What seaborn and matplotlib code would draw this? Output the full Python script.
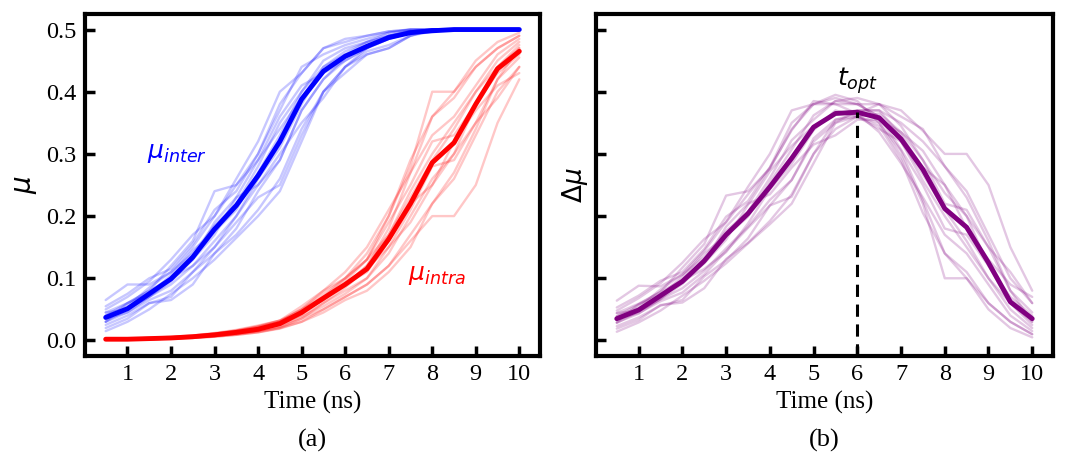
import numpy as np
import pandas as pd
import matplotlib
matplotlib.use("Agg")
import matplotlib.pyplot as plt
import seaborn as sns

# ---------------- data ----------------
time_ns = [0.5, 1.0, 1.5, 2.0, 2.5, 3.0, 3.5, 4.0, 4.5, 5.0,
           5.5, 6.0, 6.5, 7.0, 7.5, 8.0, 8.5, 9.0, 9.5, 10.0]

inter_mean = [0.037, 0.051, 0.075, 0.099, 0.134, 0.179, 0.217, 0.265, 0.320, 0.388,
              0.433, 0.457, 0.473, 0.487, 0.495, 0.498, 0.500, 0.500, 0.500, 0.500]
intra_mean = [0.002, 0.002, 0.003, 0.004, 0.006, 0.009, 0.013, 0.018, 0.027, 0.045,
              0.068, 0.090, 0.115, 0.163, 0.220, 0.286, 0.318, 0.380, 0.437, 0.465]
delta_mean = [0.035, 0.049, 0.072, 0.095, 0.128, 0.170, 0.204, 0.247, 0.293, 0.343,
              0.365, 0.367, 0.358, 0.324, 0.275, 0.212, 0.182, 0.125, 0.062, 0.035]

inter_trials = [
    [0.065, 0.090, 0.090, 0.110, 0.150, 0.200, 0.260, 0.320, 0.400, 0.430, 0.470, 0.485, 0.490, 0.497, 0.500, 0.500, 0.500, 0.500, 0.500, 0.500],
    [0.045, 0.060, 0.080, 0.120, 0.160, 0.240, 0.250, 0.290, 0.360, 0.410, 0.430, 0.450, 0.470, 0.490, 0.497, 0.500, 0.500, 0.500, 0.500, 0.500],
    [0.030, 0.050, 0.070, 0.090, 0.120, 0.160, 0.200, 0.250, 0.290, 0.370, 0.420, 0.450, 0.470, 0.485, 0.495, 0.500, 0.500, 0.500, 0.500, 0.500],
    [0.020, 0.035, 0.060, 0.065, 0.090, 0.140, 0.170, 0.210, 0.260, 0.340, 0.400, 0.440, 0.465, 0.475, 0.490, 0.497, 0.500, 0.500, 0.500, 0.500],
    [0.050, 0.070, 0.095, 0.130, 0.170, 0.200, 0.250, 0.300, 0.370, 0.440, 0.460, 0.475, 0.485, 0.495, 0.500, 0.500, 0.500, 0.500, 0.500, 0.500],
    [0.035, 0.045, 0.065, 0.080, 0.110, 0.150, 0.190, 0.230, 0.250, 0.330, 0.400, 0.430, 0.460, 0.470, 0.490, 0.500, 0.500, 0.500, 0.500, 0.500],
    [0.040, 0.055, 0.085, 0.110, 0.140, 0.185, 0.220, 0.280, 0.350, 0.400, 0.450, 0.470, 0.480, 0.490, 0.497, 0.500, 0.500, 0.500, 0.500, 0.500],
    [0.025, 0.040, 0.060, 0.070, 0.110, 0.140, 0.180, 0.240, 0.290, 0.370, 0.420, 0.455, 0.475, 0.490, 0.495, 0.500, 0.500, 0.500, 0.500, 0.500],
    [0.030, 0.060, 0.075, 0.105, 0.145, 0.175, 0.210, 0.270, 0.330, 0.400, 0.440, 0.465, 0.480, 0.495, 0.500, 0.500, 0.500, 0.500, 0.500, 0.500],
    [0.045, 0.050, 0.070, 0.100, 0.120, 0.150, 0.200, 0.260, 0.310, 0.380, 0.440, 0.460, 0.470, 0.490, 0.497, 0.500, 0.500, 0.500, 0.500, 0.500],
    [0.015, 0.030, 0.050, 0.075, 0.100, 0.130, 0.165, 0.200, 0.240, 0.320, 0.400, 0.440, 0.460, 0.470, 0.490, 0.500, 0.500, 0.500, 0.500, 0.500],
    [0.055, 0.075, 0.100, 0.115, 0.155, 0.210, 0.240, 0.300, 0.380, 0.430, 0.470, 0.480, 0.490, 0.497, 0.500, 0.500, 0.500, 0.500, 0.500, 0.500],
    [0.030, 0.045, 0.070, 0.095, 0.130, 0.170, 0.230, 0.290, 0.340, 0.390, 0.430, 0.460, 0.480, 0.490, 0.498, 0.500, 0.500, 0.500, 0.500, 0.500],
    [0.040, 0.060, 0.080, 0.100, 0.130, 0.190, 0.230, 0.250, 0.300, 0.350, 0.390, 0.440, 0.470, 0.485, 0.495, 0.500, 0.500, 0.500, 0.500, 0.500],
]

intra_trials = [
    [0.001, 0.002, 0.003, 0.004, 0.006, 0.009, 0.013, 0.020, 0.030, 0.050, 0.075, 0.100, 0.140, 0.200, 0.280, 0.400, 0.400, 0.440, 0.470, 0.490],
    [0.001, 0.001, 0.002, 0.003, 0.005, 0.007, 0.010, 0.014, 0.020, 0.030, 0.050, 0.070, 0.090, 0.120, 0.160, 0.200, 0.200, 0.250, 0.350, 0.420],
    [0.002, 0.003, 0.004, 0.006, 0.008, 0.012, 0.017, 0.024, 0.032, 0.045, 0.065, 0.090, 0.120, 0.180, 0.270, 0.360, 0.400, 0.450, 0.480, 0.495],
    [0.001, 0.002, 0.003, 0.004, 0.006, 0.009, 0.013, 0.018, 0.025, 0.040, 0.060, 0.080, 0.100, 0.140, 0.200, 0.260, 0.300, 0.380, 0.430, 0.460],
    [0.002, 0.002, 0.003, 0.005, 0.007, 0.010, 0.015, 0.022, 0.032, 0.055, 0.080, 0.110, 0.150, 0.210, 0.270, 0.330, 0.360, 0.410, 0.460, 0.485],
    [0.001, 0.001, 0.002, 0.003, 0.004, 0.006, 0.009, 0.013, 0.019, 0.030, 0.045, 0.065, 0.080, 0.110, 0.150, 0.220, 0.260, 0.330, 0.400, 0.440],
    [0.001, 0.002, 0.003, 0.004, 0.006, 0.009, 0.013, 0.019, 0.028, 0.045, 0.065, 0.090, 0.120, 0.170, 0.240, 0.300, 0.350, 0.400, 0.450, 0.480],
    [0.002, 0.003, 0.004, 0.005, 0.007, 0.011, 0.016, 0.023, 0.032, 0.050, 0.070, 0.095, 0.130, 0.200, 0.290, 0.360, 0.390, 0.440, 0.470, 0.490],
    [0.001, 0.002, 0.002, 0.003, 0.005, 0.007, 0.011, 0.016, 0.023, 0.038, 0.055, 0.075, 0.100, 0.150, 0.210, 0.280, 0.290, 0.350, 0.420, 0.455],
    [0.001, 0.002, 0.003, 0.004, 0.005, 0.008, 0.012, 0.017, 0.026, 0.042, 0.070, 0.100, 0.130, 0.170, 0.230, 0.290, 0.340, 0.400, 0.440, 0.470],
    [0.001, 0.001, 0.002, 0.003, 0.004, 0.006, 0.009, 0.013, 0.020, 0.035, 0.050, 0.070, 0.090, 0.120, 0.170, 0.220, 0.270, 0.340, 0.420, 0.470],
    [0.002, 0.003, 0.004, 0.005, 0.008, 0.011, 0.016, 0.022, 0.030, 0.050, 0.080, 0.100, 0.130, 0.190, 0.250, 0.320, 0.330, 0.380, 0.440, 0.475],
    [0.001, 0.002, 0.003, 0.004, 0.006, 0.008, 0.012, 0.018, 0.027, 0.045, 0.065, 0.090, 0.110, 0.160, 0.220, 0.250, 0.320, 0.370, 0.410, 0.430],
    [0.001, 0.002, 0.002, 0.003, 0.005, 0.007, 0.010, 0.015, 0.022, 0.035, 0.060, 0.085, 0.115, 0.150, 0.190, 0.250, 0.300, 0.350, 0.390, 0.440],
]

x_ticks = [1, 2, 3, 4, 5, 6, 7, 8, 9, 10]
y_ticks = [0.0, 0.1, 0.2, 0.3, 0.4, 0.5]
y_ticklabels = ["0.0", "0.1", "0.2", "0.3", "0.4", "0.5"]
t_opt = 6.0
t_opt_peak = 0.367

# ---------------- tidy frames ----------------
def long_frame(trials, name):
    rows = []
    for k, tr in enumerate(trials):
        for t, v in zip(time_ns, tr):
            rows.append({"time": t, name: v, "trial": k})
    return pd.DataFrame(rows)

inter_df = long_frame(inter_trials, "mu")
intra_df = long_frame(intra_trials, "mu")
delta_trials = (np.array(inter_trials) - np.array(intra_trials)).tolist()
delta_df = long_frame(delta_trials, "mu")
mean_df = pd.DataFrame({"time": time_ns, "inter": inter_mean,
                        "intra": intra_mean, "delta": delta_mean})

# ---------------- style ----------------
sns.set_theme(style="white")
plt.rcParams["font.family"] = ["Liberation Serif", "DejaVu Serif"]
plt.rcParams["mathtext.fontset"] = "dejavusans"
plt.rcParams["text.color"] = "black"
plt.rcParams["axes.labelcolor"] = "black"

BLUE = (0.0, 0.0, 1.0)
RED = (1.0, 0.0, 0.0)
PURPLE = (0.5, 0.0, 0.5)

W, H = 1068, 469
fig = plt.figure(figsize=(W / 100, H / 100), dpi=100)
ax1 = fig.add_axes([85 / W, 1 - 356 / H, 455 / W, 342 / H])
ax2 = fig.add_axes([596 / W, 1 - 356 / H, 457 / W, 342 / H], sharey=ax1)

thin = dict(estimator=None, lw=1.7, alpha=0.22, legend=False)

sns.lineplot(data=inter_df, x="time", y="mu", units="trial", color=BLUE, ax=ax1, **thin)
sns.lineplot(data=intra_df, x="time", y="mu", units="trial", color=RED, ax=ax1, **thin)
sns.lineplot(data=mean_df, x="time", y="inter", color=BLUE, lw=3.5, ax=ax1, legend=False)
sns.lineplot(data=mean_df, x="time", y="intra", color=RED, lw=3.5, ax=ax1, legend=False)

sns.lineplot(data=delta_df, x="time", y="mu", units="trial", color=PURPLE, ax=ax2, **thin)
sns.lineplot(data=mean_df, x="time", y="delta", color=PURPLE, lw=3.5, ax=ax2, legend=False)

ax2.plot([t_opt, t_opt], [-0.025, t_opt_peak], color="black", lw=2.2, ls=(0, (4, 2.5)))

for ax in (ax1, ax2):
    ax.set_xlim(0.025, 10.475)
    ax.set_ylim(-0.025, 0.525)
    ax.set_xticks(x_ticks)
    ax.set_xticklabels([str(v) for v in x_ticks])
    ax.set_yticks(y_ticks)
    for s in ax.spines.values():
        s.set_visible(True)
        s.set_linewidth(3)
        s.set_color("black")
    ax.tick_params(axis="both", which="major", direction="in", length=7, width=2.5,
                   colors="black", labelsize=17.5, pad=6,
                   bottom=True, left=True, top=False, right=False)
    ax.set_xlabel("Time (ns)", fontsize=18, labelpad=4, color="black")
    ax.grid(False)

ax1.set_yticklabels(y_ticklabels)
ax2.tick_params(axis="y", labelleft=False)

ax1.set_ylabel(r"$\mu$", fontsize=20, labelpad=5, color="black")
ax2.set_ylabel(r"$\Delta\mu$", fontsize=19, labelpad=4, color="black")

ax1.text(1.45, 0.30, r"$\mu_{inter}$", color=BLUE, fontsize=18, ha="left", va="center")
ax1.text(7.45, 0.105, r"$\mu_{intra}$", color=RED, fontsize=18, ha="left", va="center")
ax2.text(t_opt, 0.418, r"$t_{opt}$", color="black", fontsize=18, ha="center", va="center")

fig.text((85 + 540) / 2 / W, 1 - 440 / H, "(a)", ha="center", va="center", fontsize=19, color="black")
fig.text((596 + 1053) / 2 / W, 1 - 440 / H, "(b)", ha="center", va="center", fontsize=19, color="black")

fig.savefig("out.png", dpi=100)
